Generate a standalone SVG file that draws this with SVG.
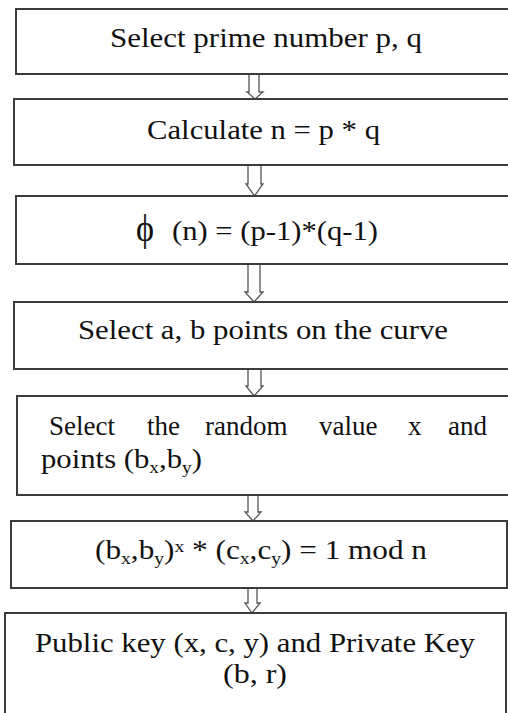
<svg xmlns="http://www.w3.org/2000/svg" width="508" height="713" viewBox="0 0 508 713">
<style>
.box{fill:#fff;stroke:#3c3c3c;stroke-width:2}
.t{font-family:"Liberation Serif","Times New Roman",serif;font-size:27px;fill:#111}
.arr{fill:#fff;stroke:#555;stroke-width:1.3;stroke-linejoin:miter}
.sub{font-size:17px}
</style>
<rect width="508" height="713" fill="#fff"/>
<g id="connectors">
<path class="arr" d="M249,74 V92 H247 L255,99 L263,92 H259 V74 Z"/>
<path class="arr" d="M248,165 V184 H246 L254.5,196 L263,184 H261 V165 Z"/>
<path class="arr" d="M248,264 V292 H245 L254,302 L263,292 H260 V264 Z"/>
<path class="arr" d="M248,369 V386 H246 L254,396 L263,386 H261 V369 Z"/>
<path class="arr" d="M248,495 V512 H245 L253,521 L261,512 H258 V495 Z"/>
<path class="arr" d="M248,588 V603 H245 L252,613 L260,603 H257 V588 Z"/>
</g>
<g id="n1">
<rect class="box" x="16" y="9" width="510" height="65"/>
<text class="t" x="110" y="47" textLength="312" lengthAdjust="spacingAndGlyphs">Select prime number p, q</text>
</g>
<g id="n2">
<rect class="box" x="14" y="99" width="512" height="66"/>
<text class="t" x="147" y="139" textLength="233" lengthAdjust="spacingAndGlyphs">Calculate n = p * q</text>
</g>
<g id="n3">
<rect class="box" x="16" y="196" width="510" height="68"/>
<text class="t" x="136" y="241" style="font-size:38px" textLength="18" lengthAdjust="spacingAndGlyphs">ϕ</text>
<text class="t" x="172" y="240" textLength="206" lengthAdjust="spacingAndGlyphs">(n) = (p-1)*(q-1)</text>
</g>
<g id="n4">
<rect class="box" x="14" y="302" width="512" height="67"/>
<text class="t" x="78" y="339" textLength="370" lengthAdjust="spacingAndGlyphs">Select a, b points on the curve</text>
</g>
<g id="n5">
<rect class="box" x="17" y="396" width="509" height="99"/>
<text class="t" y="435"><tspan x="49">Select</tspan><tspan x="147">the</tspan><tspan x="205">random</tspan><tspan x="319">value</tspan><tspan x="408">x</tspan><tspan x="448">and</tspan></text>
<text class="t" x="41" y="468" textLength="161" lengthAdjust="spacingAndGlyphs">points (b<tspan class="sub" dy="5">x</tspan><tspan dy="-5">,b</tspan><tspan class="sub" dy="5">y</tspan><tspan dy="-5">)</tspan></text>
</g>
<g id="n6">
<rect class="box" x="11" y="521" width="496" height="67"/>
<text class="t" x="95" y="559" textLength="332" lengthAdjust="spacingAndGlyphs">(b<tspan class="sub" dy="5">x</tspan><tspan dy="-5">,b</tspan><tspan class="sub" dy="5">y</tspan><tspan dy="-5">)</tspan><tspan class="sub" dy="-7">x</tspan><tspan dy="7"> * (c</tspan><tspan class="sub" dy="5">x</tspan><tspan dy="-5">,c</tspan><tspan class="sub" dy="5">y</tspan><tspan dy="-5">) = 1 mod n</tspan></text>
</g>
<g id="n7">
<rect class="box" x="5" y="613" width="501" height="120"/>
<text class="t" x="35" y="652" textLength="440" lengthAdjust="spacingAndGlyphs">Public key (x, c, y) and Private Key</text>
<text class="t" x="223" y="683" textLength="64" lengthAdjust="spacingAndGlyphs">(b, r)</text>
</g>
</svg>
